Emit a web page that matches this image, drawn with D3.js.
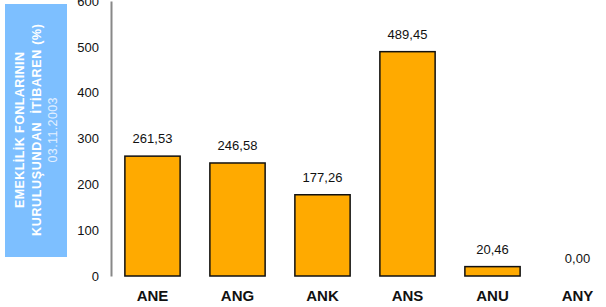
<!DOCTYPE html>
<html>
<head>
<meta charset="utf-8">
<script src="https://cdn.jsdelivr.net/npm/d3@7"></script>
<style>
  body { margin: 0; background: #fff; }
  svg { font-family: "Liberation Sans", Arial, sans-serif; }
</style>
</head>
<body>
<svg class="vis-container"></svg>
<script>
// fund codes and returns since 03.11.2003 (%)
const funds = ["ANE", "ANG", "ANK", "ANS", "ANU", "ANY"];
const returns = [261.53, 246.58, 177.26, 489.45, 20.46, 0.00];
const yTicks = [0, 100, 200, 300, 400, 500, 600];
const titleLines = ["EMEKLİLİK FONLARININ", "KURULUŞUNDAN  İTİBAREN (%)"];
const subTitle = "03.11.2003";

const width = 606, height = 307;
const svg = d3.select(".vis-container").attr("width", width).attr("height", height);

const x = d3.scaleBand().domain(funds).range([110, 620]).paddingInner(0.35).paddingOuter(0.175);
const y = d3.scaleLinear().domain([0, 600]).range([276, 1]);

// blue side box with the rotated title
svg.append("rect")
  .attr("x", 5).attr("y", 4).attr("width", 62).attr("height", 253)
  .attr("fill", "#7dbfff");

const tg = svg.append("g").attr("transform", "translate(36,130) rotate(-90)");
const titleLen = [156, 212];
titleLines.forEach((t, i) => {
  tg.append("text")
    .attr("x", 0).attr("y", -16 + i * 17)
    .attr("dominant-baseline", "central")
    .attr("text-anchor", "middle")
    .attr("font-size", 12.5).attr("font-weight", "bold")
    .attr("fill", "#fff")
    .attr("textLength", titleLen[i])
    .attr("lengthAdjust", "spacing")
    .style("white-space", "pre")
    .text(t);
});
tg.append("text")
  .attr("x", 0).attr("y", 17)
  .attr("dominant-baseline", "central")
  .attr("text-anchor", "middle")
  .attr("font-size", 12.5)
  .attr("fill", "#e3f0ff")
  .attr("textLength", 65)
  .attr("lengthAdjust", "spacing")
  .text(subTitle);

// y axis
const yAxis = d3.axisLeft(y).tickValues(yTicks).tickSize(0).tickPadding(12);
const ya = svg.append("g").attr("transform", "translate(111,0)").call(yAxis);
ya.select(".domain").attr("stroke", "#888").attr("stroke-width", 2);
ya.selectAll("text").attr("font-size", 13).attr("fill", "#111")
  .attr("font-family", "Liberation Sans, Arial, sans-serif");

// bars
svg.selectAll(".bar")
  .data(funds)
  .enter()
  .append("rect")
    .attr("class", "bar")
    .attr("x", d => x(d))
    .attr("y", (d, i) => y(returns[i]))
    .attr("width", x.bandwidth())
    .attr("height", (d, i) => y(0) - y(returns[i]))
    .attr("fill", "#ffaa00")
    .attr("stroke", "#111")
    .attr("stroke-width", 1.5);

// value labels
svg.selectAll(".val")
  .data(funds)
  .enter()
  .append("text")
    .attr("class", "val")
    .attr("x", d => x(d) + x.bandwidth() / 2)
    .attr("y", (d, i) => y(returns[i]) - 13)
    .attr("text-anchor", "middle")
    .attr("font-size", 13)
    .attr("fill", "#111")
    .text((d, i) => returns[i].toFixed(2).replace(".", ","));

// category labels
svg.selectAll(".cat")
  .data(funds)
  .enter()
  .append("text")
    .attr("class", "cat")
    .attr("x", d => x(d) + x.bandwidth() / 2)
    .attr("y", 301)
    .attr("text-anchor", "middle")
    .attr("font-size", 15)
    .attr("font-weight", "bold")
    .attr("fill", "#111")
    .text(d => d);
</script>
</body>
</html>
